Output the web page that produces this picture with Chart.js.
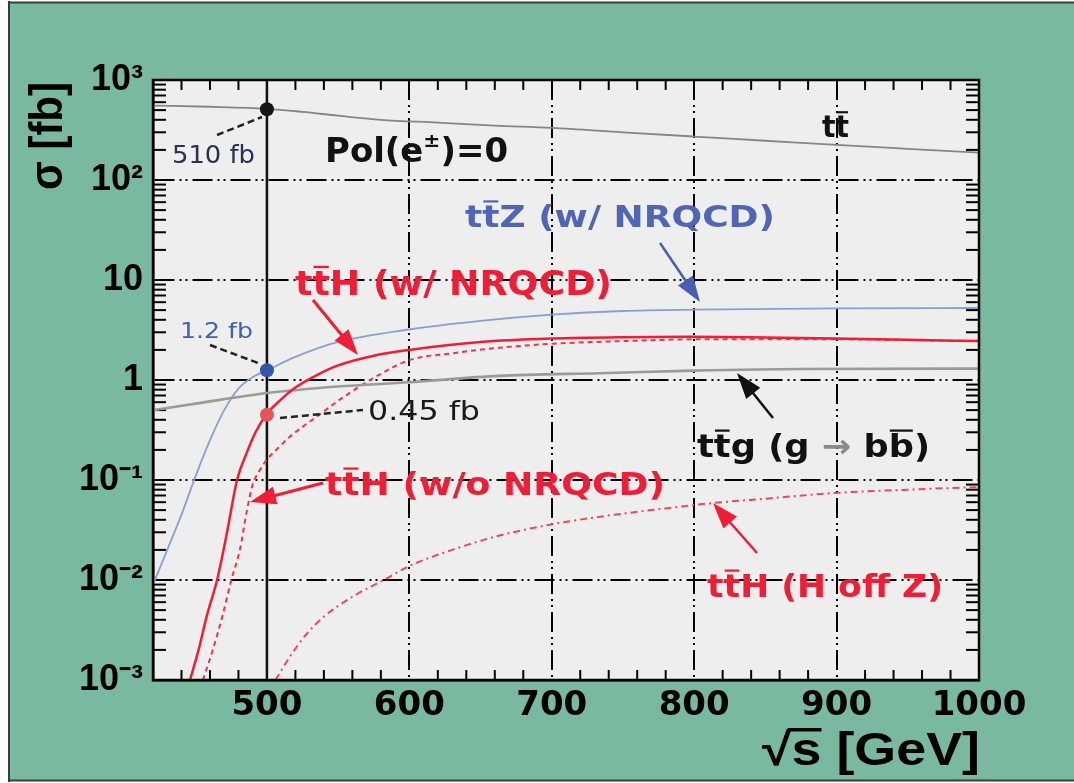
<!DOCTYPE html>
<html>
<head>
<meta charset="utf-8">
<title>ttH cross sections vs sqrt(s)</title>
<script src="https://cdn.jsdelivr.net/npm/chart.js@4.4.1/dist/chart.umd.min.js"></script>
<style>
    html, body { margin: 0; padding: 0; background: #fff; }
    canvas { display: block; }
</style>
</head>
<body>
<canvas id="xsec-chart" width="1074" height="783"></canvas>
<script>
// sqrt(s) in GeV, sigma in fb
const ttbarX = [420, 460, 500, 525, 550, 580, 620, 660, 700, 750, 800, 850, 900, 950, 1000];
const ttbarY = [555, 540, 515, 480, 440, 400, 375, 350, 332, 300, 272, 247, 224, 205, 188];

const ttZX = [420, 430, 440, 450, 460, 470, 480, 490, 500, 520, 550, 600, 650, 700, 750, 800, 900, 1000];
const ttZY = [0.009, 0.02, 0.045, 0.11, 0.25, 0.5, 0.82, 1.07, 1.25, 1.7, 2.4, 3.2, 3.9, 4.5, 4.9, 5.05, 5.2, 5.25];

const ttHnrX = [446, 452, 458, 465, 472, 479, 486, 492, 500, 510, 520, 535, 550, 575, 600, 650, 700, 750, 800, 850, 900, 950, 1000];
const ttHnrY = [0.001, 0.002, 0.0045, 0.01, 0.03, 0.1, 0.19, 0.3, 0.46, 0.64, 0.84, 1.12, 1.4, 1.75, 2.0, 2.4, 2.6, 2.68, 2.7, 2.66, 2.6, 2.52, 2.45];

const ttHX = [455, 462, 469, 475, 481, 486, 490, 495, 500, 508, 516, 525, 535, 550, 575, 600, 630, 663, 700, 750, 800, 900, 1000];
const ttHY = [0.001, 0.002, 0.0045, 0.01, 0.02, 0.05, 0.09, 0.125, 0.16, 0.21, 0.27, 0.34, 0.43, 0.62, 1.05, 1.58, 1.85, 2.1, 2.3, 2.45, 2.55, 2.55, 2.45];

const ttHoffZX = [506, 516, 528, 540, 560, 582, 601, 630, 664, 700, 734, 770, 814, 850, 898, 950, 1000];
const ttHoffZY = [0.001, 0.0017, 0.0029, 0.0043, 0.0068, 0.01, 0.014, 0.02, 0.028, 0.036, 0.043, 0.05, 0.059, 0.065, 0.074, 0.08, 0.085];

const ttgX = [420, 450, 500, 550, 600, 663, 734, 800, 875, 1000];
const ttgY = [0.5, 0.58, 0.74, 0.86, 0.95, 1.1, 1.17, 1.24, 1.29, 1.3];

// the 500 GeV reference points
const markerX = 500;
const markerY = [510, 1.25, 0.45];

const xTicks = [500, 600, 700, 800, 900, 1000];
const yTicks = [1e-3, 1e-2, 1e-1, 1, 10, 1e2, 1e3];
const yTickLabels = ['10⁻³', '10⁻²', '10⁻¹', '1', '10', '10²', '10³'];

const X_MIN = 420, X_MAX = 1000;

// minor tick positions: 2..9 x 10^n on the log axis, every 20 GeV on the energy axis
const yMinor = [];
yTicks.slice(0, -1).forEach(d => { for (let k = 2; k <= 9; k++) yMinor.push(k * d); });
const xMinor = [];
for (let g = X_MIN + 20; g < X_MAX; g += 20) { if (g % 100 !== 0) xMinor.push(g); }

const RED = '#ef1d36';
const BLUE = '#5165b5';

function toPoints(xs, ys) {
    return xs.map((x, i) => ({ x: x, y: ys[i] }));
}

// annotation text, left x / baseline y in canvas pixels
const annotationLabels = [
    { x: 325, y: 162, size: 33, w: 183, color: '#111', bold: true, parts: [{ t: 'Pol(e' }, { t: '±', sup: true }, { t: ')=0' }] },
    { x: 822, y: 137, size: 30, w: 27, color: '#111', bold: true, parts: [{ t: 't' }, { t: 't', bar: true }] },
    { x: 465, y: 227, size: 31, w: 310, color: BLUE, bold: true, parts: [{ t: 't' }, { t: 't', bar: true }, { t: 'Z (w/ NRQCD)' }] },
    { x: 295, y: 295, size: 34, w: 317, color: RED, bold: true, parts: [{ t: 't' }, { t: 't', bar: true }, { t: 'H (w/ NRQCD)' }] },
    { x: 325, y: 495, size: 32, w: 340, color: RED, bold: true, parts: [{ t: 't' }, { t: 't', bar: true }, { t: 'H (w/o NRQCD)' }] },
    { x: 697, y: 457, size: 32, w: 233, color: '#111', bold: true, parts: [{ t: 't' }, { t: 't', bar: true }, { t: 'g (g ' }, { t: '→', color: '#8a8a8a' }, { t: ' b' }, { t: 'b', bar: true }, { t: ')' }] },
    { x: 707, y: 597, size: 32, w: 236, color: RED, bold: true, parts: [{ t: 't' }, { t: 't', bar: true }, { t: 'H (H off Z)' }] },
    { x: 172, y: 163, size: 25, w: 83, color: '#2a3152', bold: false, parts: [{ t: '510 fb' }] },
    { x: 180, y: 338, size: 22, w: 73, color: '#3f5fb0', bold: false, parts: [{ t: '1.2 fb' }] },
    { x: 368, y: 420, size: 27, w: 112, color: '#1a1a1a', bold: false, parts: [{ t: '0.45 fb' }] }
];

const arrows = [
    { from: [660, 243], to: [700, 302], color: '#4a5db0', width: 2.5 },
    { from: [313, 300], to: [358, 355], color: RED, width: 3 },
    { from: [323, 483], to: [250, 502], color: RED, width: 3 },
    { from: [773, 418], to: [737, 373], color: '#111', width: 2.5 },
    { from: [757, 553], to: [713, 503], color: RED, width: 2.5 }
];

const leaders = [
    [[217, 135], [262, 117]],
    [[210, 345], [258, 363]],
    [[280, 418], [363, 410]]
];

function drawRich(ctx, lab) {
    const family = '"DejaVu Sans"';
    const weight = lab.bold ? 'bold' : 'normal';
    let natural = 0;
    lab.parts.forEach(p => {
        ctx.font = `${weight} ${p.sup ? lab.size * 0.6 : lab.size}px ${family}`;
        natural += ctx.measureText(p.t).width;
    });
    const sx = lab.w / natural;
    ctx.save();
    ctx.translate(lab.x, lab.y);
    ctx.scale(sx, 1);
    ctx.textBaseline = 'alphabetic';
    ctx.textAlign = 'left';
    let cx = 0;
    lab.parts.forEach(p => {
        const s = p.sup ? lab.size * 0.6 : lab.size;
        ctx.font = `${weight} ${s}px ${family}`;
        ctx.fillStyle = p.color || lab.color;
        ctx.fillText(p.t, cx, p.sup ? -lab.size * 0.45 : 0);
        const w = ctx.measureText(p.t).width;
        if (p.bar) {
            ctx.fillRect(cx + 1, -lab.size * 0.86, w - 2, Math.max(2, lab.size * 0.07));
        }
        cx += w;
    });
    ctx.restore();
}

function drawArrow(ctx, a) {
    const [x1, y1] = a.from;
    const [x2, y2] = a.to;
    const len = Math.hypot(x2 - x1, y2 - y1);
    const ux = (x2 - x1) / len, uy = (y2 - y1) / len;
    const head = 26, half = 9;
    const bx = x2 - ux * head, by = y2 - uy * head;
    ctx.save();
    ctx.setLineDash([]);
    ctx.strokeStyle = a.color;
    ctx.fillStyle = a.color;
    ctx.lineWidth = a.width;
    ctx.beginPath();
    ctx.moveTo(x1, y1);
    ctx.lineTo(bx + ux * 4, by + uy * 4);
    ctx.stroke();
    ctx.beginPath();
    ctx.moveTo(x2, y2);
    ctx.lineTo(bx - uy * half, by + ux * half);
    ctx.lineTo(bx + uy * half, by - ux * half);
    ctx.closePath();
    ctx.fill();
    ctx.restore();
}

const framePlugin = {
    id: 'frame',
    beforeDraw(chart) {
        const ctx = chart.ctx;
        const area = chart.chartArea;
        ctx.save();
        ctx.fillStyle = '#ffffff';
        ctx.fillRect(0, 0, chart.width, chart.height);
        ctx.fillStyle = '#79b9a0';
        ctx.fillRect(9, 2, chart.width - 9, 779);
        ctx.strokeStyle = '#3a3a3a';
        ctx.lineWidth = 2;
        ctx.beginPath();
        ctx.moveTo(9, 1); ctx.lineTo(9, 782);
        ctx.moveTo(9, 2.5); ctx.lineTo(chart.width, 2.5);
        ctx.moveTo(9, 780.5); ctx.lineTo(chart.width, 780.5);
        ctx.stroke();
        ctx.fillStyle = '#eeeeee';
        ctx.fillRect(area.left, area.top, area.right - area.left, area.bottom - area.top);
        ctx.restore();
    },
    afterDraw(chart) {
        const ctx = chart.ctx;
        const area = chart.chartArea;
        ctx.save();
        ctx.setLineDash([]);
        ctx.strokeStyle = '#000';
        ctx.lineWidth = 2.5;
        ctx.strokeRect(area.left, area.top, area.right - area.left, area.bottom - area.top);

        // dashed leaders to the 500 GeV values
        ctx.strokeStyle = '#222';
        ctx.lineWidth = 2.5;
        ctx.setLineDash([7, 4]);
        leaders.forEach(l => {
            ctx.beginPath();
            ctx.moveTo(l[0][0], l[0][1]);
            ctx.lineTo(l[1][0], l[1][1]);
            ctx.stroke();
        });
        ctx.setLineDash([]);
        ctx.restore();

        arrows.forEach(a => drawArrow(ctx, a));
        annotationLabels.forEach(l => drawRich(ctx, l));

        // axis titles
        ctx.save();
        ctx.fillStyle = '#000';
        ctx.font = 'bold 46px "Liberation Sans"';
        ctx.textBaseline = 'alphabetic';
        ctx.textAlign = 'left';
        const yTitle = 'σ [fb]';
        const yw = ctx.measureText(yTitle).width;
        ctx.translate(62, 190);
        ctx.rotate(-Math.PI / 2);
        ctx.scale(108 / yw, 1);
        ctx.fillText(yTitle, 0, 0);
        ctx.restore();

        ctx.save();
        ctx.fillStyle = '#000';
        ctx.font = 'bold 46px "Liberation Sans"';
        ctx.textBaseline = 'alphabetic';
        ctx.textAlign = 'left';
        const xTitle = '√s [GeV]';
        const xw = ctx.measureText(xTitle).width;
        const xsx = 218 / xw;
        ctx.translate(762, 765);
        ctx.scale(xsx, 1);
        ctx.fillText(xTitle, 0, 0);
        const sStart = ctx.measureText('√').width;
        const sEnd = ctx.measureText('√s').width;
        ctx.fillRect(sStart - 3, -37, sEnd - sStart + 3, 3.5);
        ctx.restore();
    }
};

// tick-mark datasets: short line markers sitting on the frame, half clipped away
function tickSet(label, points, rotation, radius) {
    return {
        label: label,
        data: points,
        showLine: false,
        pointStyle: 'line',
        rotation: rotation,
        pointRadius: radius,
        borderColor: '#000',
        pointBorderColor: '#000',
        pointBorderWidth: 2,
        order: 20
    };
}

const chartCtx = document.getElementById('xsec-chart').getContext('2d');
new Chart(chartCtx, {
    type: 'scatter',
    data: {
        datasets: [
            tickSet('y minor left', yMinor.map(v => ({ x: X_MIN, y: v })), 0, 13),
            tickSet('y minor right', yMinor.map(v => ({ x: X_MAX, y: v })), 0, 13),
            tickSet('x minor bottom', xMinor.map(g => ({ x: g, y: yTicks[0] })), 90, 10),
            tickSet('x minor top', xMinor.map(g => ({ x: g, y: yTicks[yTicks.length - 1] })), 90, 10),
            {
                label: '500 GeV',
                data: [{ x: markerX, y: 1e-3 }, { x: markerX, y: 1e3 }],
                showLine: true, borderColor: '#111', borderWidth: 2.5, pointRadius: 0, order: 10
            },
            {
                label: 'ttbar',
                data: toPoints(ttbarX, ttbarY),
                showLine: true, borderColor: '#858585', borderWidth: 1.8, pointRadius: 0,
                cubicInterpolationMode: 'monotone', order: 5
            },
            {
                label: 'ttg (g -> bb)',
                data: toPoints(ttgX, ttgY),
                showLine: true, borderColor: '#9a9a9a', borderWidth: 2.6, pointRadius: 0,
                cubicInterpolationMode: 'monotone', order: 5
            },
            {
                label: 'ttZ (w/ NRQCD)',
                data: toPoints(ttZX, ttZY),
                showLine: true, borderColor: '#8c9dd6', borderWidth: 1.8, pointRadius: 0,
                cubicInterpolationMode: 'monotone', order: 5
            },
            {
                label: 'ttH (H off Z)',
                data: toPoints(ttHoffZX, ttHoffZY),
                showLine: true, borderColor: '#f2465a', borderWidth: 2, borderDash: [7, 4, 2, 4], pointRadius: 0,
                cubicInterpolationMode: 'monotone', order: 5
            },
            {
                label: 'ttH (w/o NRQCD)',
                data: toPoints(ttHX, ttHY),
                showLine: true, borderColor: '#f0344a', borderWidth: 2, borderDash: [5, 4], pointRadius: 0,
                cubicInterpolationMode: 'monotone', order: 5
            },
            {
                label: 'ttH (w/ NRQCD)',
                data: toPoints(ttHnrX, ttHnrY),
                showLine: true, borderColor: '#f01e34', borderWidth: 2.5, pointRadius: 0,
                cubicInterpolationMode: 'monotone', order: 4
            },
            {
                label: 'values at 500 GeV',
                data: markerY.map(v => ({ x: markerX, y: v })),
                showLine: false, pointRadius: 7, pointBorderWidth: 0,
                pointBackgroundColor: ['#151515', '#3556a6', '#e0584f'], order: 0
            }
        ]
    },
    options: {
        responsive: false,
        devicePixelRatio: 1,
        animation: false,
        layout: { padding: { left: 0, right: 95, top: 80, bottom: 0 } },
        plugins: {
            legend: { display: false },
            tooltip: { enabled: false }
        },
        scales: {
            x: {
                type: 'linear',
                min: X_MIN,
                max: X_MAX,
                afterFit: scale => { scale.height = 103; },
                afterBuildTicks: scale => { scale.ticks = xTicks.map(v => ({ value: v })); },
                grid: { color: '#000', lineWidth: 2, drawTicks: false },
                border: { display: true, color: '#000', width: 2.5, dash: [20, 5, 2, 4, 2, 5] },
                ticks: {
                    padding: 6,
                    color: '#000',
                    font: { family: '"DejaVu Sans"', size: 34, weight: 'bold' },
                    maxRotation: 0,
                    callback: v => String(v)
                }
            },
            y: {
                type: 'logarithmic',
                min: 1e-3,
                max: 1e3,
                afterFit: scale => { scale.width = 153; },
                afterBuildTicks: scale => { scale.ticks = yTicks.map(v => ({ value: v })); },
                grid: { color: '#000', lineWidth: 2, drawTicks: false },
                border: { display: true, color: '#000', width: 2.5, dash: [20, 5, 2, 4, 2, 5] },
                ticks: {
                    padding: 10,
                    color: '#000',
                    font: { family: '"Liberation Sans"', size: 36, weight: 'bold' },
                    callback: v => {
                        const i = yTicks.indexOf(v);
                        return i >= 0 ? yTickLabels[i] : '';
                    }
                }
            }
        }
    },
    plugins: [framePlugin]
});
</script>
</body>
</html>
